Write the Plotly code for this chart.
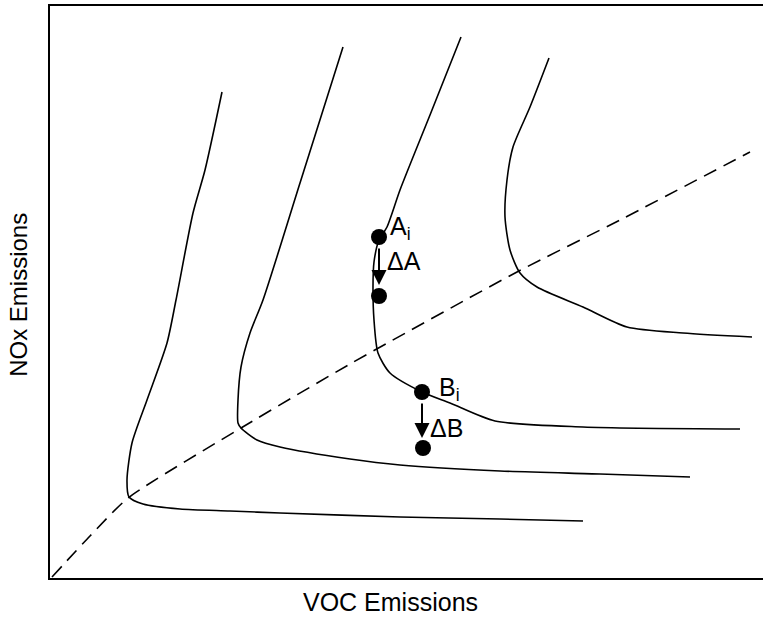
import plotly.graph_objects as go

# Emission units (arbitrary)
c1_x = [172, 155, 143, 126, 117, 97, 82, 77, 79, 93, 130, 180, 230, 350, 450, 533]
c1_y = [486, 408, 365, 278, 235, 178, 135, 98, 81, 74, 69, 67, 65, 61, 59, 57]

c2_x = [293, 250, 213, 200, 191, 188, 188, 191, 207, 230, 300, 350, 450, 550, 640]
c2_y = [531, 395, 278, 245, 211, 178, 155, 150, 138, 131, 119, 113, 107, 104, 101]

c3_x = [411, 380, 350, 337, 329, 324, 323, 324, 328, 340, 372, 400, 445, 533, 690]
c3_y = [541, 463, 388, 351, 338, 316, 291, 258, 225, 205, 186, 175, 157, 151, 149]

c4_x = [499, 480, 463, 457, 455, 460, 470, 487, 533, 577, 633, 702]
c4_y = [520, 471, 431, 398, 361, 328, 305, 291, 271, 251, 245, 241]

ridge_x = [2, 40, 78, 191, 300, 467, 570, 700]
ridge_y = [1, 42, 80, 150, 214, 306, 358, 426]

pts_x = [329, 329, 372, 373]
pts_y = [341, 282, 186, 130]

arrow_tail = [(329, 331), (372, 176)]
arrow_head = [(329, 293), (372, 140)]

labels = ["A<sub>i</sub>", "ΔA", "B<sub>i</sub>", "ΔB"]
label_x = [338, 335, 387, 378]
label_y = [350, 317, 189, 150]

FONT = "Liberation Sans, Arial, sans-serif"

fig = go.Figure()
for xs, ys in [(c1_x, c1_y), (c2_x, c2_y), (c3_x, c3_y), (c4_x, c4_y)]:
    fig.add_trace(go.Scatter(x=xs, y=ys, mode="lines",
                             line=dict(color="black", width=1.6, shape="spline", smoothing=0.7),
                             showlegend=False, hoverinfo="skip"))
fig.add_trace(go.Scatter(x=ridge_x, y=ridge_y, mode="lines",
                         line=dict(color="black", width=1.6, dash="14px,8px", shape="spline", smoothing=0.6),
                         showlegend=False, hoverinfo="skip"))
fig.add_trace(go.Scatter(x=pts_x, y=pts_y, mode="markers",
                         marker=dict(color="black", size=16),
                         showlegend=False, hoverinfo="skip"))

for (tx, ty), (hx, hy) in zip(arrow_tail, arrow_head):
    fig.add_annotation(x=hx, y=hy, ax=tx, ay=ty, xref="x", yref="y", axref="x", ayref="y",
                       text="", showarrow=True, arrowhead=2, arrowsize=1.5, arrowwidth=2,
                       arrowcolor="black")

for t, lx, ly in zip(labels, label_x, label_y):
    fig.add_annotation(x=lx, y=ly, xref="x", yref="y", text=t, showarrow=False,
                       xanchor="left", yanchor="middle",
                       font=dict(family=FONT, size=25, color="black"))

fig.add_annotation(x=(390 - 50) / 713, y=0, xref="paper", yref="paper", text="VOC Emissions",
                   showarrow=False, xanchor="center", yanchor="middle", yshift=-24,
                   font=dict(family=FONT, size=25, color="black"))
fig.add_annotation(x=0, y=0.495, xref="paper", yref="paper", text="NOx Emissions",
                   showarrow=False, xanchor="center", yanchor="middle", xshift=-31, textangle=-90,
                   font=dict(family=FONT, size=24, color="black"))

fig.update_xaxes(range=[0, 713], showgrid=False, zeroline=False, showticklabels=False, ticks="",
                 showline=True, linecolor="black", linewidth=2, mirror=True)
fig.update_yaxes(range=[0, 572], showgrid=False, zeroline=False, showticklabels=False, ticks="",
                 showline=True, linecolor="black", linewidth=2, mirror=False)
fig.update_layout(width=763, height=617, margin=dict(l=50, r=0, t=6, b=39),
                  plot_bgcolor="white", paper_bgcolor="white")
fig.write_html("out.html", config={"displayModeBar": False},
               post_script="document.body.style.margin='0';document.body.style.overflow='hidden';")
